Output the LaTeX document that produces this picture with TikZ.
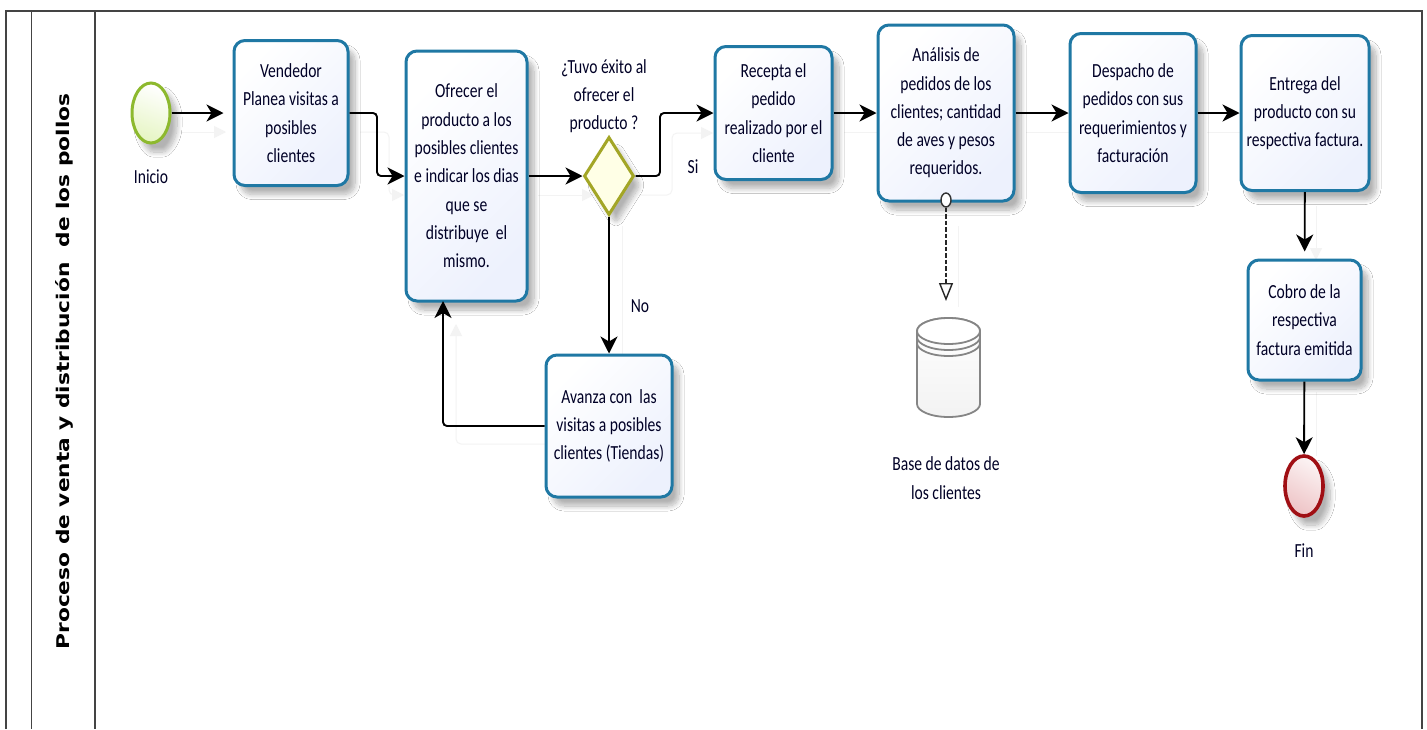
\documentclass[tikz,border=0pt]{standalone}
\usepackage{fontspec}
\setmainfont[FakeStretch=0.78]{Carlito}
\newfontfamily\titlefont[FakeStretch=1.24]{DejaVu Sans Bold}
\usetikzlibrary{arrows.meta,shapes.geometric,shadows.blur,calc}
\definecolor{taskline}{HTML}{1F78A4}
\definecolor{taskfill}{HTML}{EDF1FD}
\definecolor{startline}{HTML}{8DB92E}
\definecolor{startfill}{HTML}{E6F5C4}
\definecolor{endline}{HTML}{A00F14}
\definecolor{endfill}{HTML}{EEC4C6}
\definecolor{gateline}{HTML}{A3A626}
\definecolor{gatefill}{HTML}{FFFFE6}
\definecolor{ghost}{HTML}{F3F3F3}
\definecolor{frameline}{HTML}{444444}
\definecolor{dbline}{HTML}{858585}
\tikzset{
  softshadow/.style={blur shadow={shadow xshift=7pt,shadow yshift=-9pt,shadow blur radius=5pt,shadow blur extra rounding=5pt,shadow blur steps=12,shadow opacity=30}},
  txt/.style={font=\fontsize{20}{28.3}\selectfont,align=center,text=black!85!blue},
  bpmtask/.style={txt,draw=taskline,line width=3pt,rounded corners=11pt,inner sep=0pt,
    shading=axis,top color=white,bottom color=taskfill,shading angle=45,softshadow},
  evstart/.style={ellipse,draw=startline,line width=3pt,minimum width=38pt,minimum height=60pt,inner sep=0pt,
    shading=axis,left color=white,right color=startfill,shading angle=-20,softshadow},
  evend/.style={ellipse,draw=endline,line width=3.6pt,minimum width=38pt,minimum height=60pt,inner sep=0pt,
    shading=axis,left color=white!80!endfill,right color=endfill,shading angle=-30,softshadow},
  gate/.style={diamond,draw=gateline,line width=3pt,minimum width=50pt,minimum height=78pt,aspect=0.64,inner sep=0pt,
    fill=gatefill,softshadow},
  flow/.style={draw=black,line width=1.9pt,rounded corners=4pt,-{Stealth[length=17pt,width=17pt,inset=5pt]}},
  ghostflow/.style={draw=ghost,line width=1pt,rounded corners=5pt,-{Stealth[length=12pt,width=12pt,inset=0pt,fill=ghost]}},
  ghostline/.style={draw=ghost,line width=1pt,rounded corners=5pt},
  assoc/.style={draw=black!85,line width=1.2pt,dash pattern=on 4.5pt off 2pt,-{Triangle[open,length=18pt,width=14pt,line width=1.4pt,fill=white]}},
  label/.style={txt,inner sep=0pt},
  framestroke/.style={draw=frameline,line width=1.4pt}
}
\begin{document}
\begin{tikzpicture}[x=1pt,y=-1pt]
\useasboundingbox (0,0) rectangle (1427,729);
\fill[white] (0,0) rectangle (1427,729);
% frame
\draw[framestroke] (6,729) -- (6,11) -- (1422,11) -- (1422,729);
\draw[framestroke] (31.5,11) -- (31.5,729);
\draw[framestroke] (95,11) -- (95,729);
\node[rotate=90,inner sep=0pt,font=\titlefont\fontsize{17.5}{20}\selectfont] (title) at (64,371.5) {Proceso de venta y distribución \ de los pollos};
% ghost connectors
\draw[ghostflow] (182,132) -- (226,132);
\draw[ghostflow] (360,132) -- (389,132) -- (389,195) -- (404,195);
\draw[ghostflow] (538,195) -- (594,195);
\draw[ghostflow] (640,195) -- (672,195) -- (672,133) -- (713,133);
\draw[ghostline] (844,132) -- (878,132);
\draw[ghostline] (1026,132) -- (1070,132);
\draw[ghostline] (1207,132) -- (1241,132);
\draw[ghostline] (622,226) -- (622,355);
\draw[ghostline] (958,226) -- (958,307);
\draw[ghostflow] (1316,206) -- (1316,260);
\draw[ghostline] (1316,392) -- (1316,456);
\draw[ghostflow] (558,444) -- (456,444) -- (456,324);
% nodes
\node[evstart] (start) at (151,113) {};
\node[label] (lstart) at (151,177) {Inicio};
\node[bpmtask,minimum width=114pt,minimum height=145pt] (vend) at (291,113) {Vendedor\\Planea visitas a\\posibles\\clientes};
\node[bpmtask,minimum width=121pt,minimum height=250pt] (ofr) at (466.5,176) {Ofrecer el\\producto a los\\posibles clientes\\e indicar los dias\\que se\\distribuye \ el\\mismo.};
\node[gate] (gw) at (609,176) {};
\node[label] (lgw) at (604,96) {¿Tuvo éxito al\\ofrecer el\\producto ?};
\node[label] (lsi) at (693,167) {Si};
\node[label] (lno) at (640,306) {No};
\node[bpmtask,minimum width=117pt,minimum height=133pt] (rec) at (773.5,113) {Recepta el\\pedido\\realizado por el\\cliente};
\node[bpmtask,minimum width=136pt,minimum height=176pt] (ana) at (946,113) {Análisis de\\pedidos de los\\clientes; cantidad\\de aves y pesos\\requeridos.};
\node[bpmtask,minimum width=126pt,minimum height=159pt] (des) at (1133,113) {Despacho de\\pedidos con sus\\requerimientos y\\facturación};
\node[bpmtask,minimum width=128pt,minimum height=155pt] (ent) at (1305,113) {Entrega del\\producto con su\\respectiva factura.};
\node[bpmtask,minimum width=113pt,minimum height=120pt] (cob) at (1304.5,320) {Cobro de la\\respectiva\\factura emitida};
\node[bpmtask,minimum width=126pt,minimum height=142pt] (ava) at (609,426) {Avanza con \ las\\visitas a posibles\\clientes (Tiendas)};
\node[evend] (fin) at (1304,486) {};
\node[label] (lfin) at (1304,551) {Fin};
\node[label] (ldb) at (946,478) {Base de datos de\\los clientes};
% data store
\coordinate (dbtip) at (946,301);
\draw[draw=dbline,line width=1.8pt,shading=axis,left color=white,right color=black!5,shading angle=0]
  (917,331) -- (917,404) arc[start angle=180,end angle=360,x radius=31.5pt,y radius=13pt] -- (980,331)
  arc[start angle=0,end angle=180,x radius=31.5pt,y radius=13pt] -- cycle;
\draw[draw=dbline,line width=1.8pt,fill=white] (948.5,331) ellipse[x radius=31.5pt,y radius=13pt];
\draw[draw=dbline,line width=1.8pt] (917,337) arc[start angle=180,end angle=360,x radius=31.5pt,y radius=13pt];
\draw[draw=dbline,line width=1.8pt] (917,343) arc[start angle=180,end angle=360,x radius=31.5pt,y radius=13pt];
% connectors
\coordinate (a1) at (377,113);
\coordinate (a2) at (377,176);
\coordinate (b1) at (660,176);
\coordinate (b2) at (660,113);
\coordinate (c1) at (443,426);
\coordinate (c2) at (443,301);
\draw[flow,shorten >=9pt] (start) -- (vend);
\draw[flow] (vend.east) -- (a1) -- (a2) -- (ofr.west);
\draw[flow] (ofr) -- (gw);
\draw[flow] (gw.east) -- (b1) -- (b2) -- (rec.west);
\draw[flow] (rec) -- (ana);
\draw[flow] (ana) -- (des);
\draw[flow] (des) -- (ent);
\draw[flow,shorten >=7pt] (ent) -- (cob);
\draw[flow] (cob) -- (fin);
\draw[flow] (gw) -- (ava);
\draw[flow] (ava.west) -- (c1) -- (c2);
\node[ellipse,draw=black!80,line width=1.4pt,fill=white,minimum width=10pt,minimum height=14pt,inner sep=0pt] (ann) at (946,200) {};
\draw[assoc] (ann.south) -- (dbtip);
\end{tikzpicture}
\end{document}
